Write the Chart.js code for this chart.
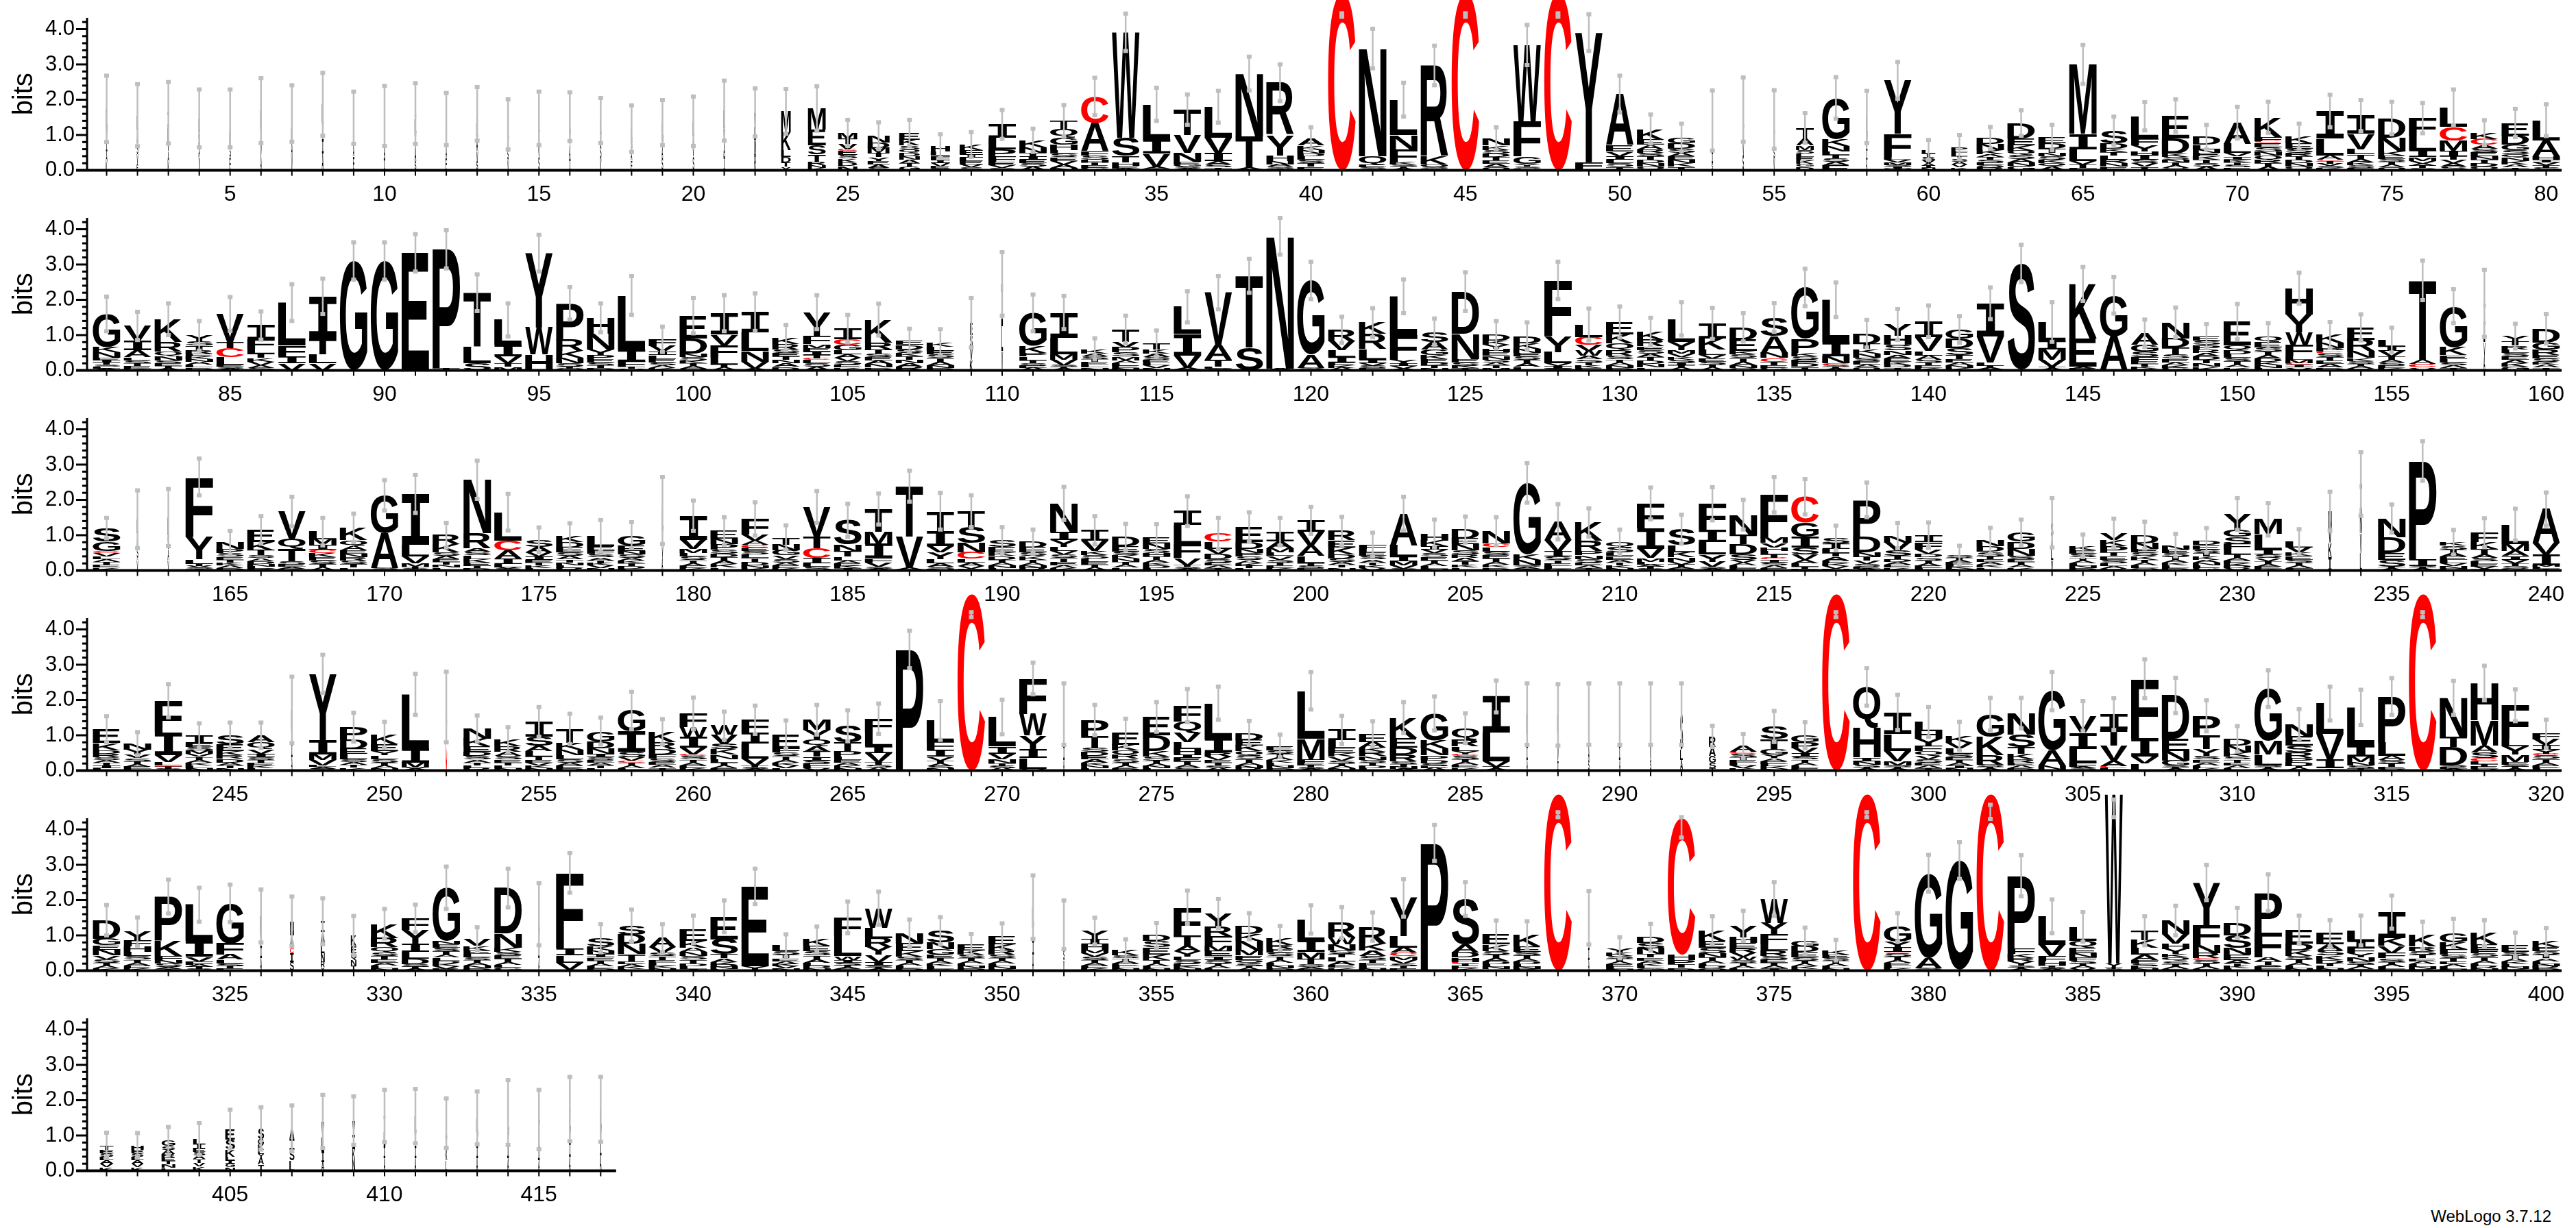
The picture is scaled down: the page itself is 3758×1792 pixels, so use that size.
<!DOCTYPE html>
<html>
<head>
<meta charset="utf-8">
<script src="https://cdn.jsdelivr.net/npm/chart.js@4.4.1/dist/chart.umd.min.js"></script>
<style>
  body { margin: 0; background: #fff; width: 3758px; height: 1792px; position: relative; overflow: hidden; }
  canvas { position: absolute; left: 0; }
  #credit { position: absolute; right: 36px; top: 1761px; font: 24px "Liberation Sans", Arial, sans-serif; color: #000; }
</style>
</head>
<body>
<div id="credit">WebLogo 3.7.12</div>
<script>
// each column: letters top-first, height in bits
const stacks1 = [
  "L.5 V.4 I.3 A.3 K.24","L.4 A.4 S.3 V.3 E.16","I.4 L.4 V.3 A.3 K.23","L.4 S.4 A.3 V.37","A.4 L.4 S.3 E.37",
  "L.5 I.4 V.4 A.39","S.4 L.4 A.4 V.41","L.5 V.5 I.4 A.47","L.4 S.4 A.3 E.39","L.4 V.4 A.4 I.34",
  "C.15 L.4 V.4 A.4 S.26","L.4 S.4 A.3 E.35","C.25 L.4 A.4 V.3 S.25","L.4 A.3 S.3 V.3","L.4 A.4 V.3 S.37",
  "L.4 V.4 A.4 I.32","L.4 A.3 S.4 V.31","L.3 S.3 A.3 E.28","L.4 V.3 A.3 S.35","L.4 A.3 V.3 S.39",
  "L.5 V.4 A.4 I.39","V.4 L.4 M.4 R.44","M.6 K.5 L.2 D.15 T.12 Y.1","M.6 E.45 S.25 T.2 R.1 N.08 K.07","M.18 T.14 V.14 C.05 E.12 S.1 K.1 D.1 N.13",
  "N.19 D.15 M.15 T.12 Y.1 E.1 A.1 S.07","E.19 K.17 S.1 Q.1 D.1 N.1 A.1 T.1 G.1","H.15 L.12 F.1 I.1 V.1 E.06 S.05","K.15 F.12 I.1 L.1 E.1 V.08 S.08","I.38 L.33 P.2 F.15 E.1 V.08 S.06",
  "K.2 N.15 T.1 I.1 E.1 S.1 A.1","T.23 Q.25 G.2 H.15 L.1 S.1 E.1 V.1 A.1 N.07","C.75 A.8 F.12 S.12 H.08 T.08 E.07 G.07","W2.98 S.52 T.18 H.1 E.08 A.05","L1.0 I.4 V.38 A.05 T.04",
  "T.72 V.5 N.25 E.08 G.07 S.05 A.05","L.87 V.45 I.22 A.1 S.08 T.08","N1.77 T.9 A.04 S.03","R1.48 Y.58 H.15 N.1 A.07 S.05 T.05","A.2 K.12 N.1 D.08 L.1 S.1 T.1 E.1",
  "C5.0","N3.06 Q.25 E.06 S.05 D.03","L1.0 N.4 F.38 K.06 S.06 T.05 A.05","R2.58 K.23 Q.06 S.05 E.05","C5.0",
  "N.2 K.12 S.1 D.1 T.1 E.1 A.1 Q.08","W2.16 F1.0 G.2 Y.08 S.06 L.05","C5.0","Y3.67 F.2 H.03","A1.45 E.18 V.13 I.1 L.1 S.1 T.1",
  "K.3 E.15 A.12 R.1 S.1 T.1 D.1 N.1 Q.1","G.16 D.15 S.12 A.1 E.1 N.1 K.1 T.1","L.5 V.4 I.3 S.21","L.5 A.4 V.4 S.42","A.4 L.4 S.3 V.34",
  "T.3 A.2 M.12 S.1 L.1 E.1 K.1 G.08 D.1","G1.16 K.2 N.15 L.1 T.1 S.1 A.1 E.14","L.5 V.4 I.3 A.31","Y1.52 F.65 L.08 V.08 M.07 S.05 I.05 W.05","L.1 T.1 S.1 V.08 A.08 I.06 N.06",
  "P.1 F.08 L.08 T.08 S.08 A.08 V.08 K.08","D.18 N.16 K.13 A.08 T.07 S.08 E.08 Q.07 R.07","D.43 E.2 K.15 Q.12 S.12 A.1 N.1 G.12","E.16 D.15 T.12 N.1 S.1 K.1 Q.1 A.1","M1.97 I.43 L.33 V.1 T.1 F.07",
  "S.35 D.15 K.1 T.1 L.12 R.1 N.1 E.1","L.63 F.2 Y.16 H.12 I.12 S.1 V.1 T.1","E.65 D.42 K.1 S.08 N.08 T.08 A.08 Q.06","D.21 L.13 N.1 E.1 K.1 T.1 S.1 A.1","A.6 L.26 V.1 I.08 K.08 T.08 S.07 E.08",
  "K.55 F.12 C.05 E.12 S.12 N.12 Q.12 R.1 T.1 A.1","K.2 E.15 S.12 R.1 T.1 D.1 N.1 Q.1","I.78 L.48 A.12 C.03 T.08 V.07 S.06 K.06","I.52 V.43 L.15 T.12 A.1 K.08 S.08 E.07","D.55 N.39 K.12 E.1 S.08 T.08 A.08 Q.08",
  "F.52 L.39 I.2 M.1 V.08 A.07 T.06 S.06","L.55 C.39 M.29 I.15 T.1 V.1 A.1 S.1","K.18 C.17 A.1 S.1 E.12 N.1 T.1 D.1 Q.1","E.35 D.26 G.15 S.12 Q.1 N.1 K.1 A.08 T.08","L.57 A.45 H.1 I.08 V.08 T.07 S.07"
];
const stacks2 = [
  "G.94 K.15 N.15 E.08 I.06 T.06 S.06 L.05 A.05","V.42 I.27 A.2 L.08 S.08 T.08 E.08 K.05","K.65 R.26 Q.13 N.12 S.08 E.08 T.08 A.05","Y.16 S.12 T.12 R.1 E.08 K.08 N.08 A.08 L.08 D.08","V.8 T.16 C.26 L.23 E.05 S.05 A.05",
  "I.39 F.26 L.15 T.12 K.1 V.1 A.08 S.07","L1.22 F.3 I.2 V.2","I1.2 T.45 L.25 V.2","G3.1","G3.1",
  "E3.3 T.03","P3.37 T.06","T1.52 L.48 S.2","L.71 I.32 V.2 T.1 M.1","Y2.1 W.77 H.45",
  "P1.03 R.32 K.2 N.15 S.1 T.05 Q.05","H.45 N.45 Y.15 P.12 E.1 S.08 T.08 D.06","L1.52 I.35 F.15 T.05 V.05","F.19 V.16 I.1 L.1 E.1 S.08 A.08 K.07","E.65 D.42 N.1 S.1 K.08 T.08 A.07 Q.05",
  "I.61 V.3 F.35 L.2 T.08 A.08","I.58 L.52 N.3 V.2 A.05","K.18 R.15 S.1 E.1 T.1 N.1 A.1 D.1","Y.68 F.23 M.1 E.1 I.1 T.1 C.04 L.1 S.1 A.1","I.29 C.16 G.15 L.12 A.1 V.1 S.1 E.08 K.08",
  "K.65 R.19 T.12 S.1 E.1 A.1 N.1 D.08","E.13 D.12 S.1 K.1 T.1 N.1 A.1 R.1","K.13 L.12 E.1 S.1 T.1 A.1 N.08 D.07","E.35 S.35 V.35 K.3","I1.2 L.7 V.55",
  "G.94 K.2 P.1 L.1 T.08 S.08 E.07 A.06","I.71 L.48 M.15 V.15 S.05 T.05 A.05","K.13 A.08 S.08 T.08 E.08 L.08 N.08","T.35 V.15 P.15 S.12 M.1 A.08 L.08 E.07 N.06","T.16 K.12 A.1 S.08 E.08 L.08 V.08 N.06",
  "L.77 I.61 V.35 A.04 T.03","V1.48 A.42 T.2 L.05 S.05","T2.03 S.65","N3.75 A.05","G2.1 A.38 S.04 T.03",
  "R.32 V.26 L.2 I.15 E.08 K.07 A.07","K.32 R.42 L.3 I.1 V.08 S.07 E.06","L1.1 F.7 Y.1 I.08 V.07 A.05","S.29 A.22 G.15 K.12 E.1 D.08 T.07 N.07","D1.2 N.7 E.1 S.1 K.07 T.06",
  "D.16 K.12 Y.12 H.1 E.1 N.1 S.08 A.08 T.08 M.07","D.2 K.15 N.12 E.1 S.1 T.1 A.1 L.1","F1.58 Y.45 L.32 V.08 I.07 S.05","L.35 C.23 V.16 W.15 A.1 S.08 T.08 K.08 E.07","E.35 K.26 Q.2 R.15 S.1 T.08 A.08 N.08 D.07",
  "K.23 R.19 E.1 S.1 A.1 T.1 D.1 N.1 L.08","L.65 Y.23 M.1 V.1 K.08 S.08 I.08 T.08 A.06","I.42 K.32 L.15 V.1 E.1 S.08 T.08 A.08","D.35 E.32 K.1 S.1 T.1 A.1 N.08 Q.07","S.52 A.48 N.15 C.1 T.1 E.08 G.07",
  "G1.45 P.4 K.1 S.1 E.1 D.1 T.1","L1.2 I.4 N.2 C.05 S.05 T.05 A.05","D.29 T.14 K.13 N.12 S.1 E.1 A.08 Q.08","Y.32 H.26 S.15 N.13 A.1 E.1 K.08 D.08 T.08","I.45 V.39 L.13 A.12 S.08 T.08 E.07 K.07",
  "G.26 D.26 S.2 T.12 E.1 A.08 N.08 K.06","I.93 V.74 L.1 T.05 A.05 S.03","S3.0 T.03","L.52 I.26 M.29 V.2 T.05 A.05","K1.55 E.8 A.05 R.05",
  "G1.16 A.94 S.03","A.32 G.2 S.15 F.12 E.08 T.08 K.05 D.05","N.45 D.26 T.2 S.12 E.1 A.08 K.08 G.07","E.13 S.12 P.12 R.1 A.1 D.1 T.1 N.1 K.1","E.68 Q.12 D.12 L.1 S.1 T.1 A.08 K.08",
  "Q.16 E.15 S.12 T.1 A.1 D.1 K.1 N.07 L.07","H.74 Y.52 W.35 F.32 L.1 M.1 C.04 I.08 V.08","K.22 N.15 P.1 C.05 S.1 T.1 E.1 A.1 D.08","E.35 R.32 N.2 K.08 S.08 T.08 A.06 D.05","L.19 I.12 V.15 T.1 A.08 S.08 E.08 K.06",
  "T2.25 A.12 C.1 V.08","G1.16 K.23 E.1 L.1 S.08 A.08 T.07","I.6 L.5 V.4 A.4","Y.15 T.12 R.1 L.1 S.1 E.1 A.1 K.1 G.1","D.39 G.2 R.15 E.1 S.1 K.08 A.08 T.08"
];
const stacks3 = [
  "S.39 G.26 C.05 V.1 L.08 A.08 T.08 E.08 K.08","L.4 A.4 S.3 C.05 V.3","L.5 S.4 A.3 V.3","F1.68 Y.65 L.13 T.06 V.05 S.04 I.04","N.19 P.12 S.1 E.08 T.08 K.08 A.08 D.07",
  "E.35 K.22 T.15 S.08 A.08 D.08 N.08 L.06 R.05","V.77 Q.29 T.35 S.1 E.06 A.05 K.05","L.22 M.16 I.12 C.1 K.12 E.1 S.1 T.1 A.08","K.35 Q.16 A.12 E.1 N.1 R.1 S.1 T.1 L.08","G1.06 A1.0 S.04 V.03",
  "I1.45 L.32 V.2 M.1 T.05 S.05","R.26 K.22 S.1 A.1 E.08 T.08 N.08 L.08","N1.52 R.42 A.1 S.1 L.1 K.1 E.1 T.07 D.06","L.8 C.29 A.22 I.15 L.1 V.05 S.04","S.2 A.15 V.12 I.1 E.08 T.08 K.07 L.07",
  "K.16 D.15 E.15 S.1 A.1 T.08 N.08 L.08 R.07","L.29 E.12 F.1 S.1 A.08 T.08 K.07 V.07 N.07","G.29 E.15 N.1 S.1 A.08 K.08 T.08 D.07 L.05","L.5 I.45 V.4 A.35","I.68 V.26 M.12 L.1 S.1 T.08 A.08 E.07 K.06",
  "E.22 N.15 P.15 S.12 D.1 T.1 A.1 K.1 L.08","F.45 V.16 A.12 C.08 E.1 S.1 L.1 T.1 D.1 N.08 K.07","T.2 N.16 G.14 V.1 S.1 A.08 E.08 K.07","V.84 T.32 C.29 I.15 L.1 S.1","S.68 N.2 T.15 L.1 A.08 E.08 K.07 I.06",
  "T.65 M.35 I.39 F.13 V.12 S.05 A.05","T1.42 V.9 A.04 S.03","T.58 I.42 V.16 Y.2 L.12 A.1 S.05 N.05","T.45 S.45 N.26 C.19 L.1 A.1 V.08 E.05","S.19 E.15 K.1 D.1 T.08 A.08 N.08 L.07",
  "D.16 E.15 S.1 K.1 T.08 A.08 N.08 R.07","N.81 I.22 Y.2 L.12 V.1 S.1 T.1 E.1 A.08 K.07","I.29 V.29 K.12 S.1 L.1 E.08 T.08 A.08","D.26 E.15 S.1 K.1 N.1 T.08 A.08 L.08","E.16 N.14 S.12 H.1 T.1 A.08 K.08 D.08 L.06",
  "I.39 L.55 F.39 V.2 T.05 S.05 A.05","C.23 L.2 V.15 D.15 S.1 E.08 A.08 T.06","E.42 D.2 N.12 P.1 S.1 A.08 K.08 T.07 L.06","I.27 A.2 M.12 L.1 V.1 S.08 T.08 E.08 K.07","I.32 V.39 A.3 L.2 T.08 S.07 E.06",
  "R.26 E.2 K.2 D.12 S.1 A.08 T.08 N.08","F.13 L.1 E.1 S.1 A.08 T.08 K.08 V.07","A.9 L.32 I.12 M.12 V.1 S.05","H.2 K.16 I.1 V.1 S.1 E.1 T.08 A.08 L.08 N.05","D.26 E.16 N.16 S.12 R.1 A.1 T.1 K.08 L.08",
  "N.35 C.1 L.12 S.1 E.1 T.1 A.08 K.08 D.08","G2.03 K.15 N.15 S.05 A.05 T.05","A.52 V.32 I.15 S.1 T.08 E.08 L.08 K.05","K.52 R.29 P.12 N.1 S.1 E.08 A.08 T.07","Q.16 S.14 L.1 E.1 A.08 T.08 K.08 N.07",
  "F.71 I.58 V.26 M.1 L.08 A.06 T.06 S.05","S.45 L.2 K.15 N.12 V.08 T.07 A.05 E.05","F.74 I.35 L.35 Y.2 V.15 S.05 A.05","N.58 T.26 D.29 S.15 V.08 A.08 L.08 E.06","F1.22 M.15 V.12 H.1 L.1 T.1 C.05 I.08 S.08 A.08 E.07",
  "C.74 G.4 I.3 S.2 V.15 A.1 L.1 T.05 E.05","S.16 I.15 L.12 T.1 A.1 E.08 K.08 V.08 N.05","P1.03 D.45 N.12 T.12 V.1 S.08 E.05 A.05","N.2 V.22 S.15 T.1 D.08 A.08 E.08 K.08","I.2 F.2 V.13 D.1 S.08 T.08 A.08 E.07 L.06",
  "S.08 T.08 A.06 E.06 L.06 K.05 N.05","N.16 D.15 S.13 T.08 E.08 A.08 K.08 L.08","G.26 D.2 N.2 S.1 E.08 T.08 A.08 K.08","S.4 A.35 L.3 V.3","K.13 E.1 S.1 T.08 A.08 L.08 N.07 D.06",
  "V.2 K.18 P.18 T.1 E.1 S.1 L.08 A.08 D.05","D.23 N.16 E.1 S.1 K.1 T.08 A.08 L.08 Q.07","N.12 E.1 S.1 T.1 A.08 K.08 L.07 D.07","D.13 E.12 S.1 T.1 K.1 A.08 N.08 L.07 G.07","Y.45 G.2 S.2 F.14 L.15 T.1 A.08 E.08 K.07 D.06 V.07",
  "M.42 L.45 I.13 S.1 V.08 T.08 A.08 E.06 K.05","L.16 V.15 K.1 E.1 S.08 T.08 A.08 F.07","N.45 V.45 K.4 I.38","I.8 N.6 V.55 L.5","N.52 D.45 E.2 S.2 T.05 A.05",
  "P2.77 I.2 S.05 T.04 A.04","K.1 S.1 T.1 A.1 E.1 L.1 V.08 N.07 G.05","F.26 K.2 T.15 A.1 S.1 L.08 E.08 V.06 I.04","L.55 M.19 A.15 I.1 V.1 T.08 S.08 K.05","A.97 V.32 I.3 M.05 L.05 T.05"
];
const stacks4 = [
  "E.39 K.2 D.1 R.1 S.08 A.08 T.08 I.07 L.07","N.16 Y.15 V.1 S.08 T.08 A.08 E.06 L.05","F.9 I.64 V.2 L.1 C.03 T.06 S.05","I.23 E.1 S.1 M.1 V.08 T.08 A.08 K.08 L.08 N.07","S.26 E.2 K.12 R.1 D.1 A.08 T.08 N.07",
  "A.2 Q.2 V.12 I.1 S.08 T.08 E.08 K.08 L.06","L.5 V.45 I.4 A.37","Y1.9 I.39 M.15 V.15 L.05 A.05 S.05","P.35 D.26 E.15 L.15 S.08 A.08 T.08 K.08","K.26 E.2 Y.12 L.1 S.1 T.08 A.08 N.07",
  "L1.54 I.39 M.15 V.04 A.04","C1.8","N.29 K.22 E.15 D.12 S.1 A.08 T.08 L.08 R.07","K.2 R.15 A.12 S.1 E.08 T.08 L.08 N.07","I.42 S.26 A.15 L.15 T.1 E.08 V.08 K.08 N.06",
  "T.39 K.2 N.15 L.12 S.1 A.08 E.08 D.06","G.29 D.2 N.15 I.1 S.08 E.08 A.08 T.08 L.06","G.6 I.57 S.15 V.1 C.05 T.08 A.08 L.07","K.29 R.2 D.15 F.12 S.1 E.08 A.08 T.08","F.39 W.29 I.29 V.2 C.04 S.1 T.08 A.08 E.08 K.07",
  "W.26 V.26 S.15 K.15 N.12 L.1 T.08 A.08 E.07","F.39 I.29 L.42 V.2 T.05 S.05 A.04","E.39 F.12 S.1 T.1 A.08 K.08 V.08 L.07","M.29 Y.26 Q.2 A.15 T.15 I.1 S.08 E.08 L.07 V.06","S.48 T.24 P.15 L.1 E.08 A.08 K.07 N.07",
  "F.39 L.39 I.2 V.25 T.08 S.08 A.08","P3.4 A.03","L.61 F.22 I.2 V.1 T.08 A.08 S.07 N.06","C5.0","L.84 I.2 V.15 N.12 T.08 S.07 A.06",
  "F1.0 W.61 Y.4 I.25 L.3 V.05","L.5 V.4 I.4 A.3","P.45 T.32 S.12 D.12 E.1 A.1 K.08 N.08 L.06","E.35 K.16 Q.12 R.12 S.1 T.08 A.08 D.07","E.52 D.45 K.15 S.12 T.08 A.08 N.06 L.06",
  "F.45 Q.32 V.26 L.2 H.15 I.1 E.1 T.1 A.08 S.08","L1.0 I.39 R.12 V.1 E.08 T.08 S.08 A.06","D.2 E.16 K.16 Q.12 S.1 T.1 A.08 N.08 R.07","E.12 S.1 T.1 A.08 K.08 L.08 N.07 D.07","L1.35 M.58 F.13 E.06 T.06 S.04 A.04",
  "I.29 L.22 E.15 K.1 V.1 S.08 T.08 A.07 N.06","E.23 A.16 K.12 R.12 N.1 S.08 T.08 D.08 L.07","K.58 E.26 D.2 R.2 S.08 T.08 N.06 A.04","G.77 K.22 N.2 P.12 D.1 S.08 E.07 A.06","Q.32 R.2 L.12 Y.1 C.04 S.1 T.08 A.08 E.08 K.08",
  "I1.03 L.81 V.15 T.06 A.05","L.5 V.4 I.4 A.3","L.5 A.4 V.4 I.28","L.5 V.4 A.4 S.3","L.5 V.4 I.4 A.3",
  "L.5 A.4 V.4 S.3","S1.0 L.3 A.3","R.3 A.25 G.2 S.15 T.07","A.16 C.06 S.1 T.08 E.08 L.08 V.07 K.07","S.35 T.3 G.15 Y.1 A.08 E.08 L.07 K.07 N.05",
  "G.2 P.16 V.15 I.1 S.08 T.08 A.08 L.08 E.07","C5.0","Q1.16 H.84 I.1 N.1 S.08 T.04 A.05","I.61 L.48 V.29 M.12 S.05 T.05 A.05","L.26 H.22 Y.2 F.15 Q.12 V.1 S.1 E.08 A.08 T.07",
  "K.2 V.15 L.15 S.1 E.08 T.08 A.08 I.07 N.07","G.65 K.52 R.26 S.07 T.05 A.05","N.61 S.35 T.2 K.15 R.1 E.08 A.08 D.06","G1.68 A.42 N.12 L.03","V.48 I.45 L.39 F.12 A.04 S.04 T.03",
  "I.42 T.48 V.42 A.15 C.05 L.05 S.03","F1.68 I.52 V.2 L.2","D1.23 E.35 N.26 G.15 S.05 T.05 A.04","P.55 T.39 Y.2 S.1 E.08 A.08 L.08 K.07","D.19 N.2 K.12 S.08 T.08 E.08 A.08 L.07",
  "G1.48 M.39 L.3 S.05 T.05 A.05","N.35 E.26 S.2 R.15 P.12 D.12 T.06 A.06","L.87 V.71 I.26 T.03 A.03","L1.1 I.29 M.15 N.1 S.08 T.07","P1.29 L.39 A.12 S.1 T.1 E.05 V.05",
  "C5.0","N1.1 T.29 D.52 S.05 E.05 A.05","H1.06 M.71 A.2 S.15 C.1 L.08 T.07 E.06 V.05","F.97 L.2 Y.23 M.2 E.08 S.06 T.06 A.05","F.16 V.16 I.12 Y.12 C.05 S.1 T.1 A.08 E.08 L.07"
];
const stacks5 = [
  "D.52 G.19 E.13 N.16 V.1 S.1 T.08 A.08 K.07","Y.27 F.16 H.15 L.12 S.1 T.08 A.08 E.08 K.07","P1.26 K.42 F.12 N.1 S.1 A.05 T.05","L1.03 I.45 V.12 F.1 A.06 T.06 S.05","G1.13 F.32 A.15 L.1 S.08 T.07 E.06",
  "L.45 V.4 I.35 A.35","N.4 A.35 C.15 I.25 S.25","I.3 A.3 L.3 N.25 R.15 Y.1","K.3 E.2 Q.2 N.15 T.15","K.4 R.26 Q.15 S.1 T.1 E.1 A.08 L.08 N.06",
  "F.32 Y.39 I.23 L.2 D.15 S.08 T.06 A.05","G1.5 N.1 E.1 S.1 T.1 A.08 L.08 D.08 K.08 V.08 R.05","V.19 K.13 E.1 L.1 S.08 T.08 A.08 N.07 D.07","D1.29 N.39 K.12 S.1 E.1 T.1 A.08 L.08 G.08","L.45 V.4 I.4 A.35",
  "F2.14 I.2 L.2 V.2 A.03","S.23 K.12 N.1 I.1 E.08 T.08 A.08 L.07 D.06","S.26 D.26 N.29 T.2 E.08 A.08 K.06 L.05","A.26 V.15 S.1 T.1 E.08 L.08 K.08 N.07","E.32 K.2 A.12 N.12 S.1 T.1 D.08 L.08 I.05",
  "E.65 S.42 T.12 A.1 K.08 D.07 N.06 L.04","E2.26 Y.1 S.03","L.16 S.1 T.1 E.08 A.08 K.07 V.06 N.06","K.19 E.15 S.12 T.1 A.1 L.08 D.08 N.07","F.52 L.58 W.1 I.08 S.08 T.06 A.05 E.04",
  "W.55 L.29 R.26 Y.22 V.2 I.1 S.06 T.05 A.04","N.29 E.22 K.15 S.1 T.08 A.08 L.08 D.06","S.32 N.2 G.15 E.1 T.08 A.08 K.08 L.07 D.05","E.16 K.12 S.1 T.08 A.08 L.07 N.07 D.06","E.22 K.16 R.12 S.1 T.08 A.08 L.08 N.07 D.05",
  "L.5 V.45 I.4 A.45","A.35 L.35 S.3 V.3","Y.22 I.15 H.15 M.1 V.1 S.1 T.08 A.08 E.08 K.06","K.15 S.08 T.08 A.07 E.07 L.07 N.06","D.16 S.18 E.2 K.15 T.1 A.08 L.07 N.06",
  "F.81 T.29 A.15 Y.15 L.1 S.1 E.08 K.06 N.06","Y.39 R.26 F.26 M.15 E.15 I.1 S.1 T.08 A.07 L.06","D.22 K.2 N.26 M.15 E.12 Q.1 S.08 T.07 A.06","K.2 R.12 E.1 S.1 T.1 A.08 L.08 N.08 D.07","L.6 I.32 M.2 T.15 S.08 A.05 E.05",
  "R.42 W.2 N.16 S.1 T.1 L.12 A.1 E.08 K.08","R.48 K.2 A.15 S.12 T.08 E.08 L.08 N.06","Y1.08 L.32 A.15 C.1 M.1 V.1 S.08 T.07 E.06","P3.6 A.02","S1.29 A.22 D.15 H.12 C.04 T.08 E.07 K.06",
  "E.29 K.18 S.1 T.1 A.1 D.08 L.08 N.06 Q.04","K.32 E.15 S.1 T.1 A.08 D.08 L.07 N.06 R.05","C5.0","L.45 V.4 I.35 A.3","Y.13 K.1 S.08 T.08 A.08 E.07 L.06 N.05",
  "D.16 S.16 N.16 T.1 E.08 A.08 K.08 L.07 G.06","C3.87 H.15 P.12 T.1 D.08","K.29 E.2 S.15 N.12 T.1 A.08 L.08 D.06 Q.06","Y.32 H.16 E.15 R.12 V.12 W.1 S.08 T.08 A.08 L.06","W.68 Y.32 F.26 L.2 R.15 S.1 E.1 T.08 A.08 I.06",
  "G.16 D.16 E.15 S.1 T.08 A.08 K.07 L.05","K.12 E.1 S.08 T.08 A.07 L.07 N.06","C5.0","G.42 Y.16 I.12 C.03 S.1 T.1 A.08 E.08 L.08 K.06","G2.39 A.3 S.04 T.03",
  "G3.1 A.02","C5.0","P2.06 F.15 K.12 R.1 Y.12 S.05 T.05 A.04","L.81 V.32 F.15 H.12 T.05 S.05 A.04","L.39 Q.2 E.15 N.12 F.1 S.08 T.08 A.06 V.06",
  "W4.8 Y.1 T.05 S.05","T.26 K.22 L.2 A.15 F.1 S.08 E.06 N.06","N.39 V.26 H.15 Y.15 K.1 Q.1 S.08 T.08 A.06 E.05","Y1.2 F.58 N.22 R.15 C.04 S.1 T.08 A.08 E.05","D.35 S.35 N.2 E.15 A.1 T.08 K.06 L.06",
  "P1.13 F.7 A.12 T.1 S.06 E.06 L.04","E.39 D.2 K.15 S.1 T.1 A.08 L.07 N.07","E.32 A.16 S.15 K.12 D.1 T.08 L.07 N.06","L.29 I.2 F.15 Y.12 N.12 S.08 T.07 A.06 E.05","I.74 K.22 V.2 F.15 S.1 T.08 A.06 L.06 E.05",
  "K.32 R.13 S.1 T.1 E.08 A.08 L.08 N.06 D.05","G.26 K.2 F.15 S.1 T.1 E.08 A.07 L.06 N.05","K.32 E.15 F.1 S.1 T.1 A.08 L.08 R.07 N.06","E.19 S.1 T.1 A.08 K.08 L.07 N.06 D.05","K.16 E.12 S.1 T.1 A.08 L.08 N.07 R.06 D.06"
];
const stacks6 = [
  "T.12 E.1 S.1 L.1 A.1 V.1 K.1","H.12 E.1 S.1 L.1 A.1 V.1 K.1","G.15 S.1 A.12 R.1 E.1 T.1 N.1 L.08","L.15 I.12 E.1 S.1 A.1 T.1 V.1 K.13","E.3 S.28 K.2 L.1 I.1 G.1 N.1",
  "S.3 G.15 K.15 L.12 Y.1 A.2 T.18","A.3 I.3 S.3 L.3","V.45 L.4 I.3 A.25","V.4 I.4 K.3 N.32","V.45 L.4 I.35 A.35",
  "L.45 V.4 I.35 A.35","A.4 V.35 K.3 L.3","L.4 V.4 I.35 A.35","L.5 V.4 I.4 A.35","V.4 L.4 I.35 A.3",
  "C.05 L.5 V.4 I.4 A.4","L.5 V.4 I.4 A.44"
];

// error bar half-lengths (bits)
const err1 = [.94,.88,.87,.82,.82,.92,.8,.89,.74,.85,.86,.74,.76,.71,.76,.69,.64,.66,.64,.7,.85,.68,.63,.63,.37,.38,.37,.34,.35,.41,.33,.45,.53,.53,.47,.43,.45,.48,.52,.32,.05,.56,.48,.56,.05,.32,.57,.05,.52,.52,.41,.39,.85,.91,.83,.42,.59,.74,.52,.28,.34,.31,.36,.36,.55,.4,.4,.46,.35,.45,.44,.35,.46,.44,.46,.43,.51,.35,.4,.45];
const err2 = [.49,.4,.45,.42,.48,.4,.52,.5,.53,.53,.53,.54,.52,.47,.52,.46,.41,.55,.36,.5,.51,.53,.36,.48,.39,.45,.33,.37,.7,.9,.52,.47,.3,.39,.37,.44,.47,.48,.52,.53,.37,.41,.48,.37,.55,.39,.39,.53,.45,.44,.39,.47,.44,.4,.41,.53,.49,.39,.44,.45,.38,.45,.53,.56,.48,.52,.39,.42,.34,.5,.37,.44,.37,.37,.35,.56,.48,.95,.35,.42];
const err3 = [.29,.82,.81,.52,.32,.39,.42,.39,.4,.43,.54,.35,.54,.52,.35,.37,.45,.37,.95,.43,.39,.47,.35,.45,.47,.44,.44,.52,.45,.38,.34,.47,.4,.37,.39,.42,.44,.42,.39,.38,.4,.33,.48,.39,.37,.4,.56,.5,.4,.35,.45,.41,.47,.42,.5,.5,.35,.49,.36,.36,.26,.37,.36,.7,.32,.4,.38,.32,.35,.45,.46,.35,.55,.9,.4,.56,.35,.41,.45,.47];
const err4 = [.37,.33,.47,.34,.35,.36,.94,.54,.41,.37,.58,1.0,.37,.35,.42,.43,.38,.53,.36,.45,.4,.4,.4,.42,.44,.43,.53,.55,.07,.49,.45,.87,.43,.39,.42,.47,.47,.34,.32,.53,.4,.36,.44,.48,.42,.45,.87,.87,.87,.87,.87,.87,.3,.34,.44,.37,.07,.53,.5,.42,.4,.46,.43,.54,.42,.45,.55,.5,.44,.36,.52,.42,.48,.5,.52,.07,.48,.49,.45,.4];
const err5 = [.43,.4,.48,.48,.53,.75,.7,.65,.55,.42,.39,.6,.33,.55,.88,.56,.4,.45,.4,.39,.45,.5,.32,.36,.45,.47,.39,.39,.3,.38,.9,.69,.38,.31,.35,.47,.41,.37,.34,.4,.44,.4,.53,.51,.48,.39,.39,.07,.76,.3,.38,.29,.4,.43,.48,.37,.29,.07,.4,.52,.52,.2,.58,.48,.42,.25,.41,.42,.5,.43,.52,.4,.37,.42,.47,.39,.4,.37,.35,.38];
const err6 = [.36,.35,.39,.45,.55,.6,.65,.75,.69,.74,.77,.7,.75,.92,.84,.91,.92];

// columns whose error bar is not centred on the stack top
const errCenter = {41: 4.4, 45: 4.4, 48: 4.4, 269: 4.42, 297: 4.42, 316: 4.42, 368: 4.42, 372: 4.06, 378: 4.42, 382: 4.5, 386: 4.6};

// columns drawn narrower (mostly gaps)
const colWidth = {
  1:.05,2:.05,3:.05,4:.05,5:.05,6:.05,7:.05,8:.06,9:.05,10:.05,11:.06,12:.05,13:.06,14:.05,15:.05,16:.05,17:.05,18:.05,19:.05,20:.05,21:.05,22:.06,
  23:.35,24:.65,25:.7,26:.8,27:.75,28:.7,29:.85,53:.05,54:.05,55:.05,56:.65,58:.05,60:.5,61:.6,
  109:.1,110:.06,158:.06,162:.05,163:.05,179:.05,224:.08,233:.12,234:.07,247:.05,252:.05,272:.05,
  287:.05,288:.05,289:.05,290:.05,291:.05,292:.1,293:.25,326:.06,327:.14,328:.14,329:.2,335:.05,351:.06,352:.05,369:.05,386:.65,
  401:.5,402:.45,403:.5,404:.45,405:.35,406:.22,407:.18,408:.1,409:.1,410:.06,411:.06,412:.06,413:.06,414:.06,415:.06,416:.06,417:.06
};

const rowStarts = [1, 81, 161, 241, 321, 401];
const rowStacks = [stacks1, stacks2, stacks3, stacks4, stacks5, stacks6];
const rowErrs = [err1, err2, err3, err4, err5, err6];

const POS_W = 45.05, ROW_PITCH = 292, OVER = 40, CANVAS_H = 380;
const PLOT_LEFT = 133, BASE = 248.5, TOP = 26;
const TEXT_FONT = '"Liberation Sans", Arial, sans-serif';
const GLYPH_FONT = 'bold 200px ' + TEXT_FONT;
const SERIF_I_FONT = 'bold 200px "DejaVu Sans Mono", monospace'; // I with bars, as WebLogo draws it

function glyphFont(ch) { return ch === 'I' ? SERIF_I_FONT : GLYPH_FONT; }

function parseStack(s) {
  return s.trim().split(/\s+/).map(t => ({ ch: t[0], v: parseFloat(t.slice(1)) })).reverse();
}

const measure = document.createElement('canvas').getContext('2d');
const boxes = {};
function glyphBox(ch) {
  if (!boxes[ch]) {
    measure.font = glyphFont(ch);
    const m = measure.measureText(ch);
    boxes[ch] = { l: m.actualBoundingBoxLeft, r: m.actualBoundingBoxRight, a: m.actualBoundingBoxAscent, d: m.actualBoundingBoxDescent };
  }
  return boxes[ch];
}

function drawGlyph(ctx, ch, x, y, w, h) {
  if (h < 0.3 || w <= 0) return;
  const b = glyphBox(ch);
  ctx.save();
  ctx.translate(x, y);
  ctx.scale(w / (b.l + b.r), h / (b.a + b.d));
  ctx.font = glyphFont(ch);
  ctx.textAlign = 'left';
  ctx.textBaseline = 'alphabetic';
  ctx.fillStyle = ch === 'C' ? '#ff0000' : '#000000';
  ctx.fillText(ch, b.l, b.a);
  ctx.restore();
}

const logoPlugin = {
  id: 'logo',
  afterDatasetsDraw(chart) {
    const ctx = chart.ctx;
    const { start, totals, errs } = chart.options.plugins.logo;
    chart.data.datasets.forEach((ds, k) => {
      chart.getDatasetMeta(k).data.forEach((bar, i) => {
        if (!ds.data[i]) return;
        const p = bar.getProps(['x', 'y', 'base', 'width'], true);
        const w = p.width * (colWidth[start + i] || 1);
        drawGlyph(ctx, ds.letters[i], p.x - w / 2, p.y, w, p.base - p.y);
      });
    });
    // error bars
    const xs = chart.scales.x, ys = chart.scales.y;
    ctx.save();
    ctx.strokeStyle = '#bebebe';
    ctx.fillStyle = '#bebebe';
    ctx.lineWidth = 2.5;
    totals.forEach((t, i) => {
      const c = errCenter[start + i] !== undefined ? errCenter[start + i] : t;
      const e = errs[i];
      const x = xs.getPixelForValue(i);
      const y1 = ys.getPixelForValue(c + e), y2 = ys.getPixelForValue(Math.max(0, c - e));
      ctx.beginPath();
      ctx.moveTo(x, y1);
      ctx.lineTo(x, y2);
      ctx.stroke();
      ctx.fillRect(x - 3.5, y1 - 3, 7, 6);
      ctx.fillRect(x - 3.5, y2 - 3, 7, 6);
    });
    ctx.restore();
  },
  afterDraw(chart) {
    const ctx = chart.ctx;
    const { start } = chart.options.plugins.logo;
    const xs = chart.scales.x, ys = chart.scales.y;
    const area = chart.chartArea;
    const axisX = area.left - 6;
    const y0 = ys.getPixelForValue(0);
    ctx.save();
    ctx.strokeStyle = '#000';
    ctx.fillStyle = '#000';
    // y axis
    ctx.lineWidth = 3;
    ctx.beginPath();
    ctx.moveTo(axisX, y0);
    ctx.lineTo(axisX, ys.getPixelForValue(4.32));
    ctx.stroke();
    ctx.font = '31px ' + TEXT_FONT;
    ctx.textAlign = 'right';
    ctx.textBaseline = 'middle';
    for (let t = 0; t <= 21; t++) {
      const v = t / 5;
      const y = ys.getPixelForValue(v);
      const major = t % 5 === 0;
      ctx.beginPath();
      ctx.moveTo(axisX - (major ? 16 : 7), y);
      ctx.lineTo(axisX + 1, y);
      ctx.stroke();
      if (major) ctx.fillText(v.toFixed(1), axisX - 18, y);
    }
    // x axis
    ctx.lineWidth = 4;
    ctx.beginPath();
    ctx.moveTo(axisX - 16, y0);
    ctx.lineTo(area.right, y0);
    ctx.stroke();
    ctx.lineWidth = 2;
    ctx.font = '32px ' + TEXT_FONT;
    ctx.textAlign = 'center';
    ctx.textBaseline = 'alphabetic';
    xs.getLabels().forEach((lab, i) => {
      const x = xs.getPixelForValue(i);
      ctx.beginPath();
      ctx.moveTo(x, y0);
      ctx.lineTo(x, y0 + 8);
      ctx.stroke();
      if ((start + i) % 5 === 0) ctx.fillText(lab, x, y0 + 44);
    });
    // axis title
    ctx.font = '40px ' + TEXT_FONT;
    ctx.translate(36, (y0 + ys.getPixelForValue(4.32)) / 2);
    ctx.rotate(-Math.PI / 2);
    ctx.textAlign = 'center';
    ctx.textBaseline = 'middle';
    ctx.fillText('bits', 0, 0);
    ctx.restore();
  }
};

rowStarts.forEach((start, r) => {
  const parsed = rowStacks[r].map(parseStack);
  const n = parsed.length;
  const levels = Math.max(...parsed.map(p => p.length));
  const datasets = [];
  for (let k = 0; k < levels; k++) {
    datasets.push({
      data: parsed.map(p => (p[k] ? p[k].v : 0)),
      letters: parsed.map(p => (p[k] ? p[k].ch : '')),
      backgroundColor: 'rgba(0,0,0,0)',
      borderWidth: 0,
      barPercentage: 1,
      categoryPercentage: 0.89
    });
  }
  const totals = parsed.map(p => p.reduce((s, l) => s + l.v, 0));

  const canvas = document.createElement('canvas');
  canvas.width = 3758;
  canvas.height = CANVAS_H;
  canvas.style.top = (r * ROW_PITCH - OVER) + 'px';
  document.body.appendChild(canvas);

  new Chart(canvas, {
    type: 'bar',
    data: { labels: parsed.map((_, i) => String(start + i)), datasets },
    options: {
      responsive: false,
      animation: false,
      devicePixelRatio: 1,
      events: [],
      layout: {
        padding: {
          left: PLOT_LEFT,
          right: 3758 - PLOT_LEFT - n * POS_W,
          top: OVER + TOP,
          bottom: CANVAS_H - OVER - BASE
        }
      },
      plugins: {
        legend: { display: false },
        tooltip: { enabled: false },
        logo: { start, totals, errs: rowErrs[r] }
      },
      scales: {
        x: { stacked: true, display: false, offset: true },
        y: { stacked: true, display: false, min: 0, max: 4.32 }
      }
    },
    plugins: [logoPlugin]
  });
});
</script>
</body>
</html>
